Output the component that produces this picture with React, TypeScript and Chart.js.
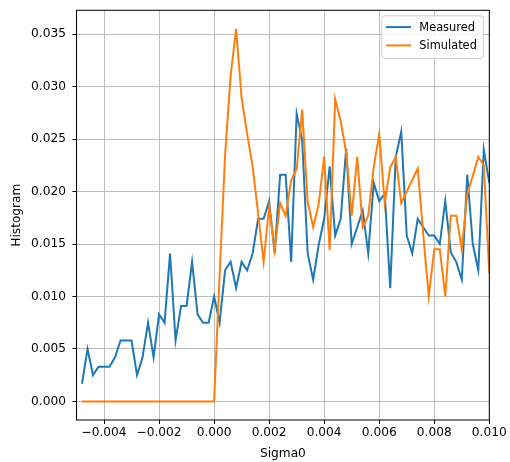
import React, { useEffect, useRef } from "react";
import { Chart, registerables } from "chart.js";

Chart.register(...registerables);

const sigma0 = [
  -0.0048, -0.0046, -0.0044, -0.0042, -0.004, -0.0038, -0.0036, -0.0034, -0.0032, -0.003,
  -0.0028, -0.0026, -0.0024, -0.0022, -0.002, -0.0018, -0.0016, -0.0014, -0.0012, -0.001,
  -0.0008, -0.0006, -0.0004, -0.0002, 0.0, 0.0002, 0.0004, 0.0006, 0.0008, 0.001,
  0.0012, 0.0014, 0.0016, 0.0018, 0.002, 0.0022, 0.0024, 0.0026, 0.0028, 0.003,
  0.0032, 0.0034, 0.0036, 0.0038, 0.004, 0.0042, 0.0044, 0.0046, 0.0048, 0.005,
  0.0052, 0.0054, 0.0056, 0.0058, 0.006, 0.0062, 0.0064, 0.0066, 0.0068, 0.007,
  0.0072, 0.0074, 0.0076, 0.0078, 0.008, 0.0082, 0.0084, 0.0086, 0.0088, 0.009,
  0.0092, 0.0094, 0.0096, 0.0098, 0.01,
];

const measured = [
  0.0017, 0.005, 0.0025, 0.0033, 0.0033, 0.0033, 0.0042, 0.0058, 0.0058, 0.0058,
  0.0025, 0.0042, 0.0075, 0.0042, 0.0083, 0.0075, 0.0141, 0.0058, 0.0091, 0.0091,
  0.0133, 0.0083, 0.0075, 0.0075, 0.01, 0.0075, 0.0125, 0.0133, 0.0108, 0.0133,
  0.0125, 0.0141, 0.0174, 0.0174, 0.0191, 0.0141, 0.0216, 0.0216, 0.0133, 0.0274,
  0.0249, 0.0141, 0.0116, 0.0149, 0.0174, 0.0224, 0.0158, 0.0174, 0.0241, 0.015,
  0.0166, 0.0182, 0.0141, 0.0208, 0.0191, 0.0198, 0.0108, 0.0233, 0.0257, 0.0158,
  0.0141, 0.0174, 0.0166, 0.0158, 0.0158, 0.015, 0.0191, 0.0142, 0.0133, 0.0116,
  0.0216, 0.015, 0.0125, 0.024, 0.0208,
];

const simulated = [
  0, 0, 0, 0, 0, 0, 0, 0, 0, 0,
  0, 0, 0, 0, 0, 0, 0, 0, 0, 0,
  0, 0, 0, 0, 0, 0.012, 0.0235, 0.031, 0.0355, 0.0289,
  0.0255, 0.0224, 0.0179, 0.0133, 0.0186, 0.0144, 0.0189, 0.0177, 0.0211, 0.0221,
  0.0278, 0.019, 0.0166, 0.0188, 0.0233, 0.0144, 0.0288, 0.0267, 0.0237, 0.0177,
  0.0233, 0.0166, 0.0177, 0.0223, 0.0255, 0.0189, 0.0223, 0.0233, 0.0189, 0.02,
  0.0211, 0.0222, 0.0159, 0.01, 0.0145, 0.0145, 0.01, 0.0177, 0.0177, 0.0145,
  0.0198, 0.0215, 0.0233, 0.0225, 0.0122,
];

const xTicks = [-0.004, -0.002, 0.0, 0.002, 0.004, 0.006, 0.008, 0.01];
const yTicks = [0.0, 0.005, 0.01, 0.015, 0.02, 0.025, 0.03, 0.035];
const seriesNames = ["Measured", "Simulated"];
const seriesColors = ["#1f77b4", "#ff7f0e"];
const xLabel = "Sigma0";
const yLabel = "Histogram";

const FONT = "'DejaVu Sans', sans-serif";
const TICK_SIZE = 12.2;
const LEGEND_SIZE = 11.4;

const fmt = (v: number) => (v < -1e-12 ? "\u2212" : "") + Math.abs(v).toFixed(3);

const frameLegendPlugin = {
  id: "frameLegend",
  afterDraw(chart: any) {
    const { ctx, chartArea: a } = chart;
    ctx.save();
    // axes frame
    ctx.strokeStyle = "#000";
    ctx.lineWidth = 1;
    ctx.strokeRect(a.left, a.top, a.right - a.left, a.bottom - a.top);

    // legend box (upper right)
    const bw = 101.6;
    const bh = 42.6;
    const bx = a.right - 6 - bw;
    const by = a.top + 5.5;
    ctx.beginPath();
    if ((ctx as any).roundRect) {
      (ctx as any).roundRect(bx, by, bw, bh, 3);
    } else {
      ctx.rect(bx, by, bw, bh);
    }
    ctx.fillStyle = "rgba(255,255,255,0.8)";
    ctx.fill();
    ctx.strokeStyle = "#cccccc";
    ctx.lineWidth = 1;
    ctx.stroke();

    ctx.font = `${LEGEND_SIZE}px ${FONT}`;
    ctx.textBaseline = "middle";
    ctx.textAlign = "left";
    const rows = [by + 11.3, by + 29.6];
    seriesNames.forEach((name, i) => {
      const y = rows[i];
      ctx.beginPath();
      ctx.moveTo(bx + 4.3, y);
      ctx.lineTo(bx + 29.3, y);
      ctx.strokeStyle = seriesColors[i];
      ctx.lineWidth = 2;
      ctx.stroke();
      ctx.fillStyle = "#000";
      ctx.fillText(name, bx + 37.6, y + 0.5);
    });
    ctx.restore();
  },
};

export default function App() {
  const canvasRef = useRef<HTMLCanvasElement | null>(null);

  useEffect(() => {
    const canvas = canvasRef.current;
    if (!canvas) return;
    const seriesValues = [measured, simulated];
    const chart = new Chart(canvas, {
      type: "line",
      data: {
        datasets: seriesNames.map((name, i) => ({
          label: name,
          data: sigma0.map((x, j) => ({ x, y: seriesValues[i][j] })),
          borderColor: seriesColors[i],
          backgroundColor: seriesColors[i],
          borderWidth: 2,
          pointRadius: 0,
          tension: 0,
          fill: false,
          order: seriesNames.length - i,
        })),
      },
      options: {
        responsive: false,
        animation: false,
        devicePixelRatio: 1,
        layout: { padding: { top: 10.3, right: 20.7, left: 0, bottom: 0 } },
        plugins: {
          legend: { display: false },
          tooltip: { enabled: false },
        },
        scales: {
          x: {
            type: "linear",
            min: -0.005,
            max: 0.01,
            afterBuildTicks: (scale: any) => {
              scale.ticks = xTicks.map((v) => ({ value: v }));
            },
            afterFit: (scale: any) => {
              scale.height = 42;
              scale.paddingLeft = 0;
              scale.paddingRight = 0;
            },
            ticks: {
              autoSkip: false,
              maxRotation: 0,
              padding: 2,
              color: "#000",
              font: { family: FONT, size: TICK_SIZE },
              callback: (v: any) => fmt(Number(v)),
            },
            grid: {
              color: "#bdbdbd",
              lineWidth: 1,
              drawTicks: true,
              tickLength: 4,
              tickColor: "#000",
            },
            border: { display: false },
            title: {
              display: true,
              text: xLabel,
              color: "#000",
              font: { family: FONT, size: TICK_SIZE },
              padding: { top: 0, bottom: 0.5 },
            },
          },
          y: {
            type: "linear",
            min: -0.001775,
            max: 0.037275,
            afterBuildTicks: (scale: any) => {
              scale.ticks = yTicks.map((v) => ({ value: v }));
            },
            afterFit: (scale: any) => {
              scale.width = 76.5;
              scale.paddingTop = 0;
              scale.paddingBottom = 0;
            },
            ticks: {
              autoSkip: false,
              padding: 6.5,
              color: "#000",
              font: { family: FONT, size: TICK_SIZE },
              callback: (v: any) => fmt(Number(v)),
            },
            grid: {
              color: "#bdbdbd",
              lineWidth: 1,
              drawTicks: true,
              tickLength: 4,
              tickColor: "#000",
            },
            border: { display: false },
            title: {
              display: true,
              text: yLabel,
              color: "#000",
              font: { family: FONT, size: TICK_SIZE },
              padding: { top: 10, bottom: 0 },
            },
          },
        },
      },
      plugins: [frameLegendPlugin],
    } as any);
    return () => chart.destroy();
  }, []);

  return (
    <div style={{ position: "absolute", left: 0, top: 0, width: 510, height: 462, background: "#fff" }}>
      <canvas ref={canvasRef} width={510} height={462} style={{ display: "block" }} />
    </div>
  );
}
